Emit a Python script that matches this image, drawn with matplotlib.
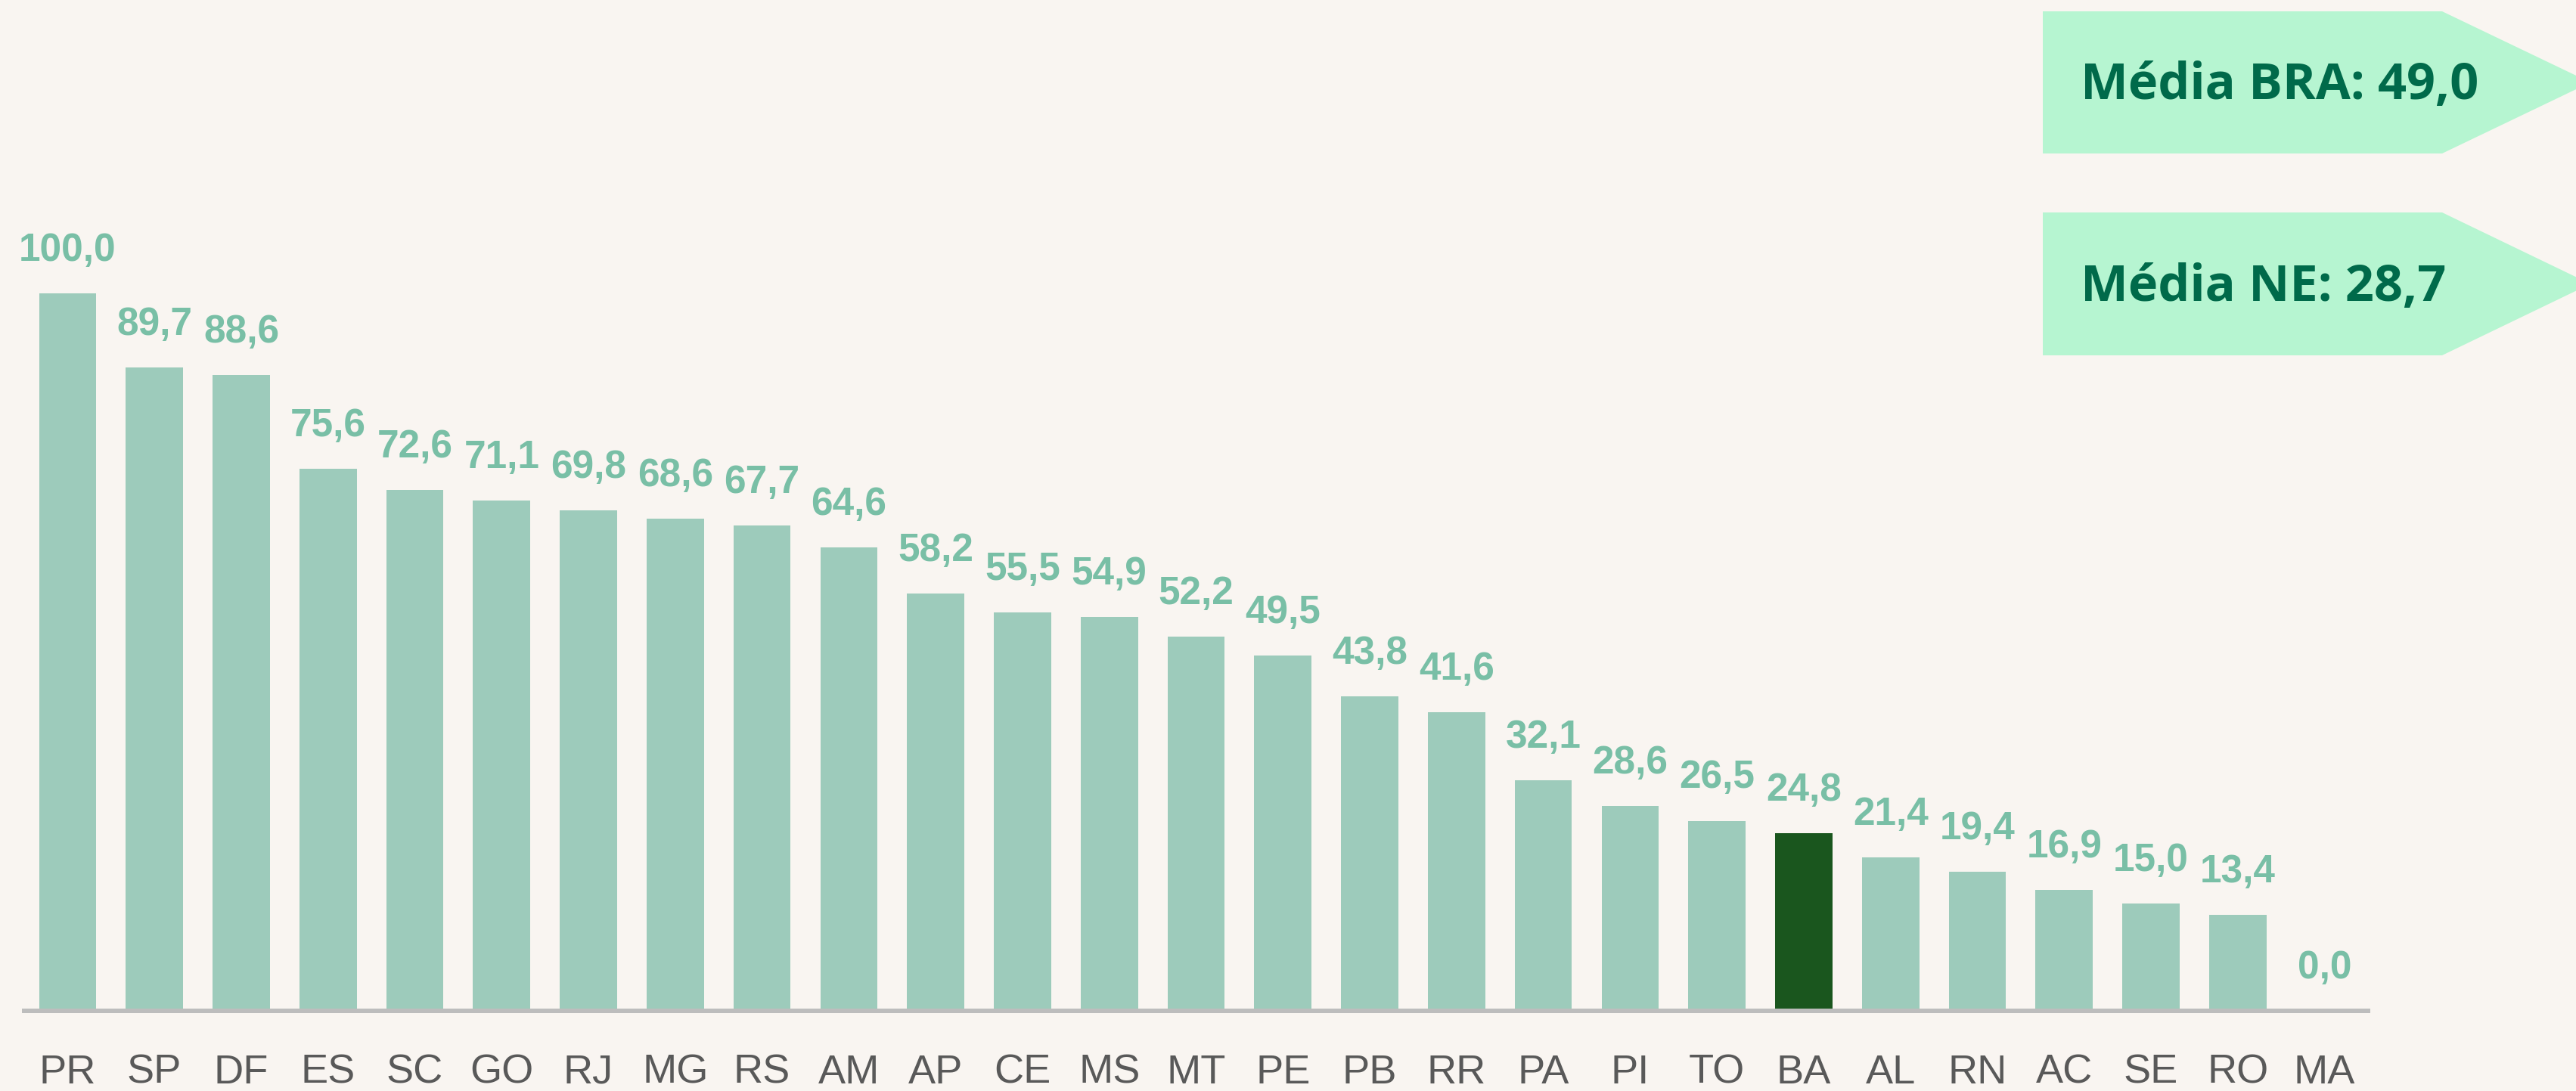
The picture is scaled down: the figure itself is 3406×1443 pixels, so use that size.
import numpy as np
import matplotlib.pyplot as plt
from matplotlib.patches import Polygon

# data
estados = ['PR', 'SP', 'DF', 'ES', 'SC', 'GO', 'RJ', 'MG', 'RS', 'AM', 'AP', 'CE', 'MS', 'MT',
           'PE', 'PB', 'RR', 'PA', 'PI', 'TO', 'BA', 'AL', 'RN', 'AC', 'SE', 'RO', 'MA']
valores = [100.0, 89.7, 88.6, 75.6, 72.6, 71.1, 69.8, 68.6, 67.7, 64.6, 58.2, 55.5, 54.9, 52.2,
           49.5, 43.8, 41.6, 32.1, 28.6, 26.5, 24.8, 21.4, 19.4, 16.9, 15.0, 13.4, 0.0]
destaque = 'BA'
media_bra = 49.0
media_ne = 28.7

BG = '#F9F5F1'
BAR = '#9DCBBB'
BAR_HL = '#1A561E'
LABEL = '#79BFA6'
TICK = '#595959'
BOX = '#B6F5D1'
BOX_TXT = '#006A4A'

W, H = 3406, 1443
fig = plt.figure(figsize=(W / 100, H / 100), dpi=100, facecolor=BG)

ax = fig.add_axes([32 / W, 106 / H, (3131 - 32) / W, 1337 / H], facecolor=BG)
x = np.arange(len(estados))
cores = [BAR_HL if e == destaque else BAR for e in estados]
ax.bar(x, valores, width=0.66, color=cores, zorder=1)

for xi, v in zip(x, valores):
    ax.annotate(f'{v:.1f}'.replace('.', ','), (xi, v), xytext=(0, 31), textcoords='offset points',
                ha='center', va='baseline', fontsize=37, fontweight='bold',
                color=LABEL, family=['Liberation Sans', 'DejaVu Sans'])

ax.set_xlim(-0.5, len(estados) - 0.5)
ax.set_ylim(0, 140.9)
ax.set_xticks(x)
ax.set_xticklabels(estados, fontsize=39, color=TICK,
                   family=['Liberation Sans Narrow', 'Liberation Sans', 'DejaVu Sans'])
ax.tick_params(axis='x', length=0, pad=41)
ax.set_yticks([])
for s in ['top', 'right', 'left']:
    ax.spines[s].set_visible(False)
ax.spines['bottom'].set_color('#BDBDBD')
ax.spines['bottom'].set_linewidth(4.3)

# caixas com as medias
ov = fig.add_axes([0, 0, 1, 1], facecolor='none')
ov.set_xlim(0, W)
ov.set_ylim(H, 0)
ov.axis('off')
for (top, bot, txt) in [(15, 203, f'Média BRA: {media_bra:.1f}'.replace('.', ',')),
                        (281, 470, f'Média NE: {media_ne:.1f}'.replace('.', ','))]:
    mid = (top + bot) / 2
    ov.add_patch(Polygon([(2701, top), (3229, top), (3425, mid), (3229, bot), (2701, bot)],
                         closed=True, facecolor=BOX, edgecolor='none'))
    ov.text(2751, bot - 72, txt, fontsize=48, fontweight='bold', color=BOX_TXT,
            ha='left', va='baseline', family=['Open Sans', 'Lato', 'DejaVu Sans'])

plt.savefig('out.png', dpi=100, facecolor=BG)
